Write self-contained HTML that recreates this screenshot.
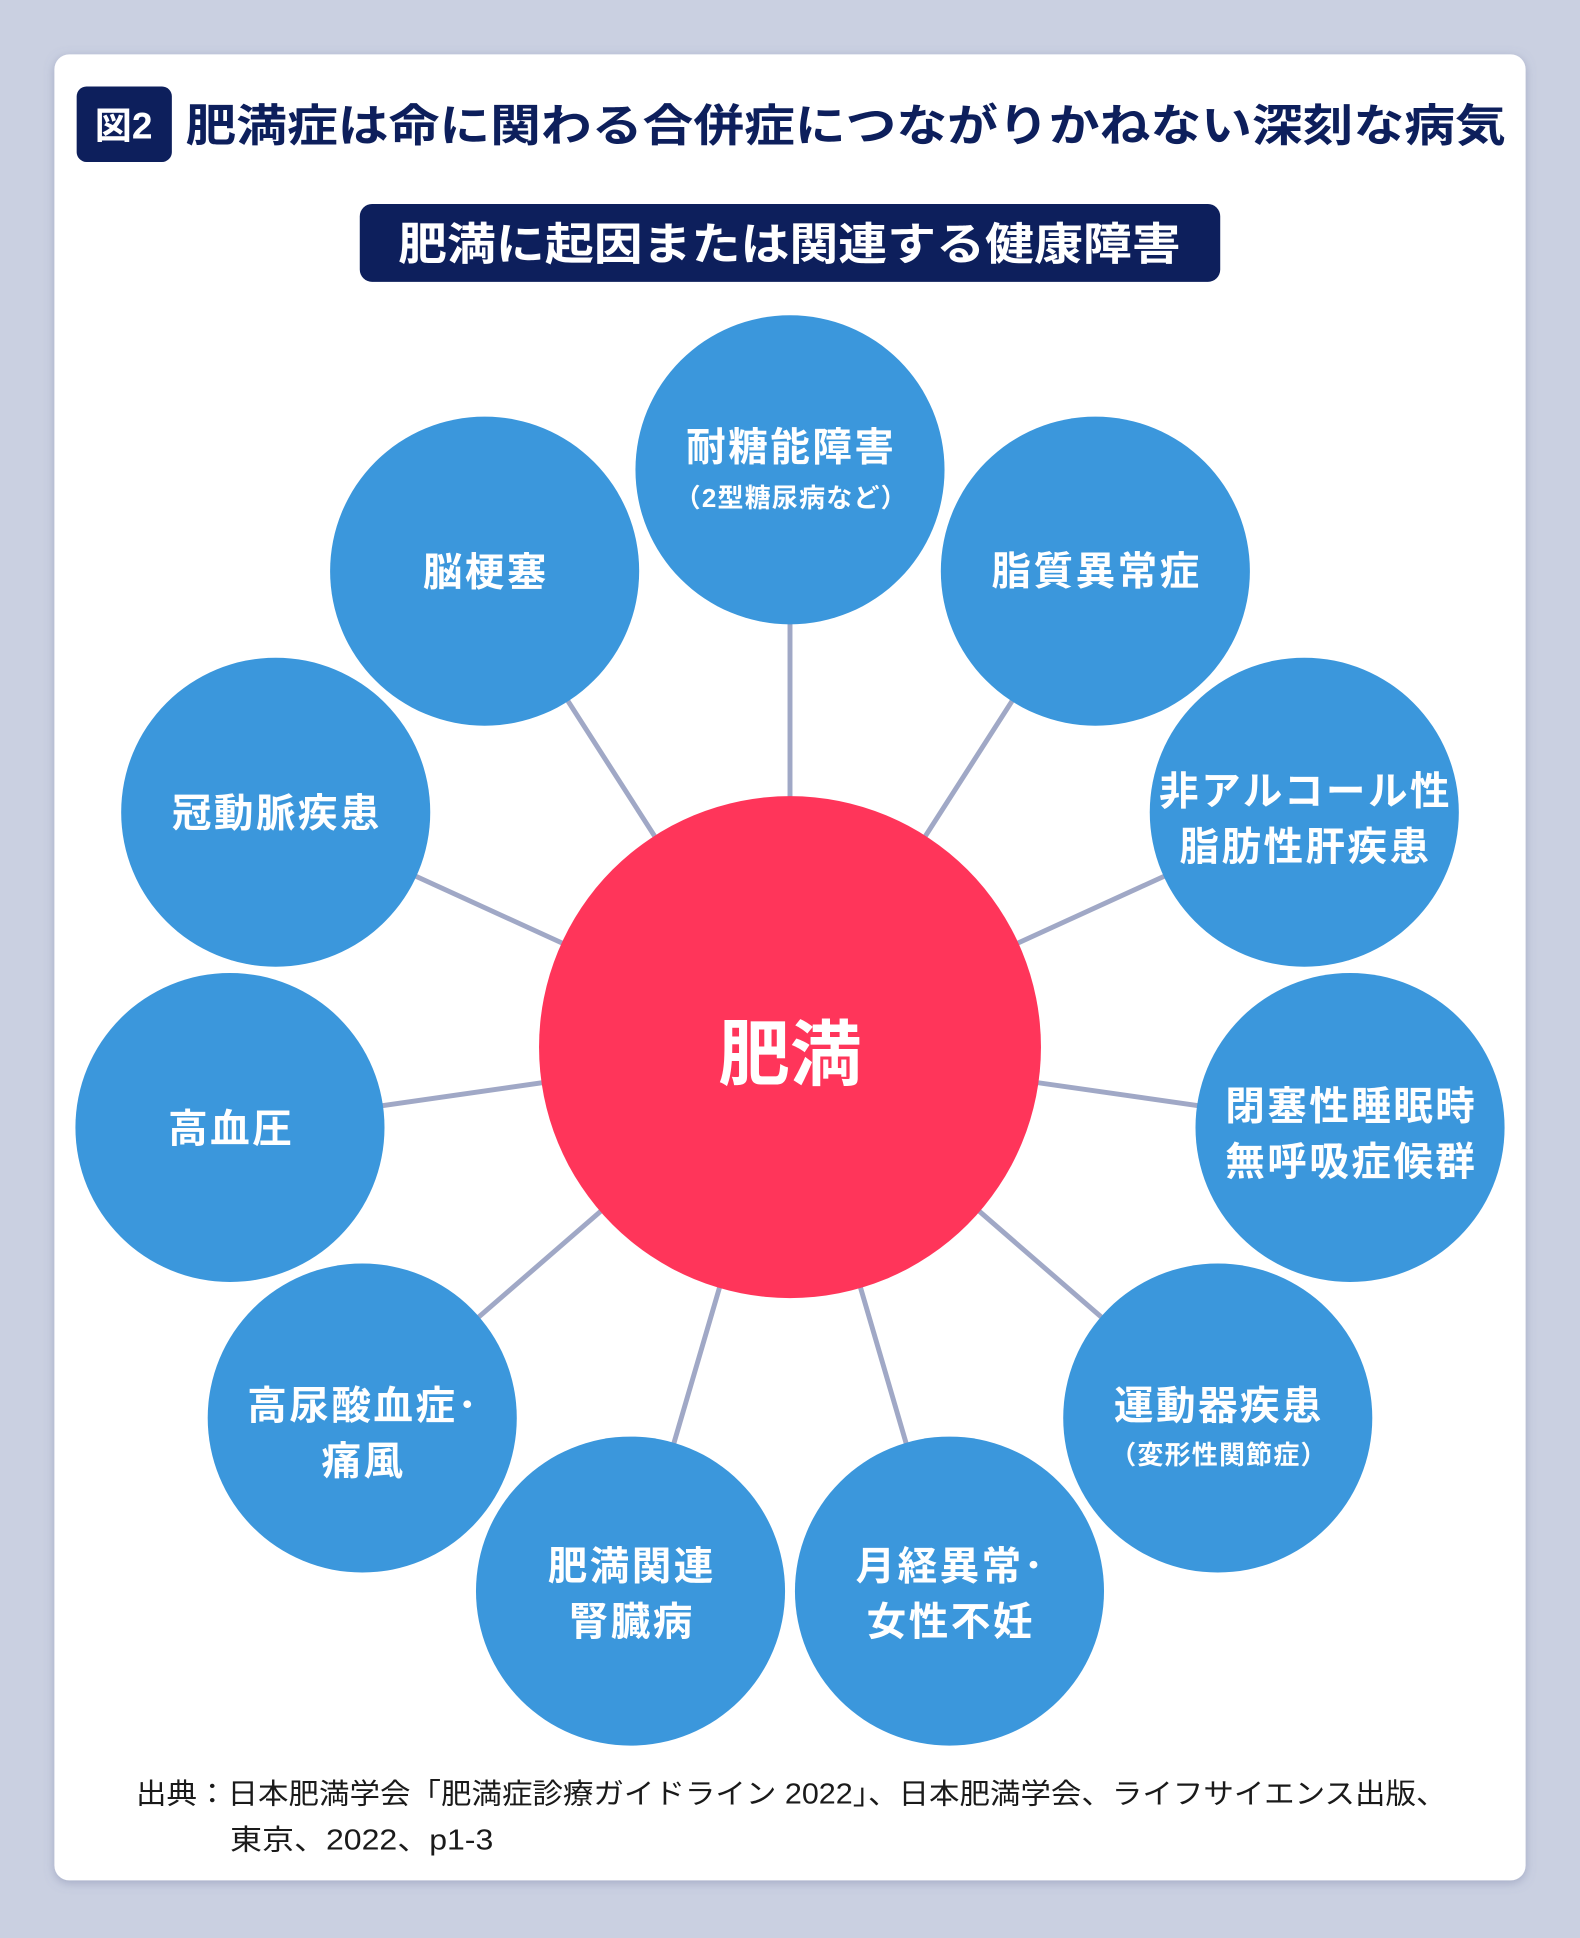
<!DOCTYPE html>
<html><head><meta charset="utf-8"><style>
html,body{margin:0;padding:0;background:#cad0e1;}
svg{display:block}
text{font-family:"Liberation Sans","Noto Sans CJK JP",sans-serif;}
</style></head><body>
<svg width="1580" height="1938" viewBox="0 0 1278 1567.6" xmlns="http://www.w3.org/2000/svg">
<defs><filter id="sh" x="-5%" y="-5%" width="110%" height="110%"><feDropShadow dx="0" dy="2" stdDeviation="4" flood-color="#7a82a8" flood-opacity="0.5"/></filter></defs>
<rect x="0" y="0" width="1278" height="1568" fill="#cad0e1"/>
<rect x="44" y="44" width="1190" height="1477" rx="12" fill="#fff" filter="url(#sh)"/>
<rect x="62" y="70" width="77" height="61" rx="8" fill="#0d1f5c"/>
<text x="100" y="112" font-size="30" font-weight="bold" fill="#fff" text-anchor="middle">図2</text>
<text x="150" y="114" font-size="36" font-weight="bold" fill="#0d1f5c" textLength="1068" lengthAdjust="spacingAndGlyphs">肥満症は命に関わる合併症につながりかねない深刻な病気</text>
<rect x="291" y="165" width="696" height="63" rx="10" fill="#0d1f5c"/>
<text x="322" y="210" font-size="36" font-weight="bold" fill="#fff" textLength="633" lengthAdjust="spacingAndGlyphs">肥満に起因または関連する健康障害</text>
<g stroke="#a0a8c6" stroke-width="4">
<line x1="639" y1="847" x2="639" y2="380"/>
<line x1="639" y1="847" x2="886" y2="462"/>
<line x1="639" y1="847" x2="1055" y2="657"/>
<line x1="639" y1="847" x2="1092" y2="912"/>
<line x1="639" y1="847" x2="985" y2="1147"/>
<line x1="639" y1="847" x2="768" y2="1287"/>
<line x1="639" y1="847" x2="510" y2="1287"/>
<line x1="639" y1="847" x2="293" y2="1147"/>
<line x1="639" y1="847" x2="186" y2="912"/>
<line x1="639" y1="847" x2="223" y2="657"/>
<line x1="639" y1="847" x2="392" y2="462"/>
</g>
<g fill="#3b97dc">
<circle cx="639" cy="380" r="125"/>
<circle cx="886" cy="462" r="125"/>
<circle cx="1055" cy="657" r="125"/>
<circle cx="1092" cy="912" r="125"/>
<circle cx="985" cy="1147" r="125"/>
<circle cx="768" cy="1287" r="125"/>
<circle cx="510" cy="1287" r="125"/>
<circle cx="293" cy="1147" r="125"/>
<circle cx="186" cy="912" r="125"/>
<circle cx="223" cy="657" r="125"/>
<circle cx="392" cy="462" r="125"/>
</g>
<circle cx="639" cy="847" r="203" fill="#ff355a"/>
<text x="639" y="873" font-size="58" font-weight="bold" fill="#fff" text-anchor="middle">肥満</text>
<g fill="#fff" font-weight="bold" font-size="32" text-anchor="middle" letter-spacing="2">
<text x="640" y="373">耐糖能障害</text>
<text x="640" y="410" font-size="21" letter-spacing="1">（2型糖尿病など）</text>
<text x="887" y="473">脂質異常症</text>
<text x="1056" y="651">非アルコール性</text>
<text x="1056" y="696">脂肪性肝疾患</text>
<text x="1093" y="906">閉塞性睡眠時</text>
<text x="1093" y="951">無呼吸症候群</text>
<text x="986" y="1148">運動器疾患</text>
<text x="986" y="1184" font-size="21" letter-spacing="1">（変形性関節症）</text>
<text x="769" y="1278">月経異常･</text>
<text x="769" y="1323">女性不妊</text>
<text x="511" y="1278">肥満関連</text>
<text x="511" y="1323">腎臓病</text>
<text x="294" y="1148">高尿酸血症･</text>
<text x="294" y="1193">痛風</text>
<text x="187" y="924">高血圧</text>
<text x="224" y="669">冠動脈疾患</text>
<text x="393" y="474">脳梗塞</text>
</g>
<g fill="#1a1a1a" font-size="23">
<text x="110" y="1459" textLength="1060" lengthAdjust="spacingAndGlyphs">出典：日本肥満学会「肥満症診療ガイドライン 2022」、日本肥満学会、ライフサイエンス出版、</text>
<text x="186" y="1496" textLength="213" lengthAdjust="spacingAndGlyphs">東京、2022、p1-3</text>
</g>
</svg>
</body></html>
